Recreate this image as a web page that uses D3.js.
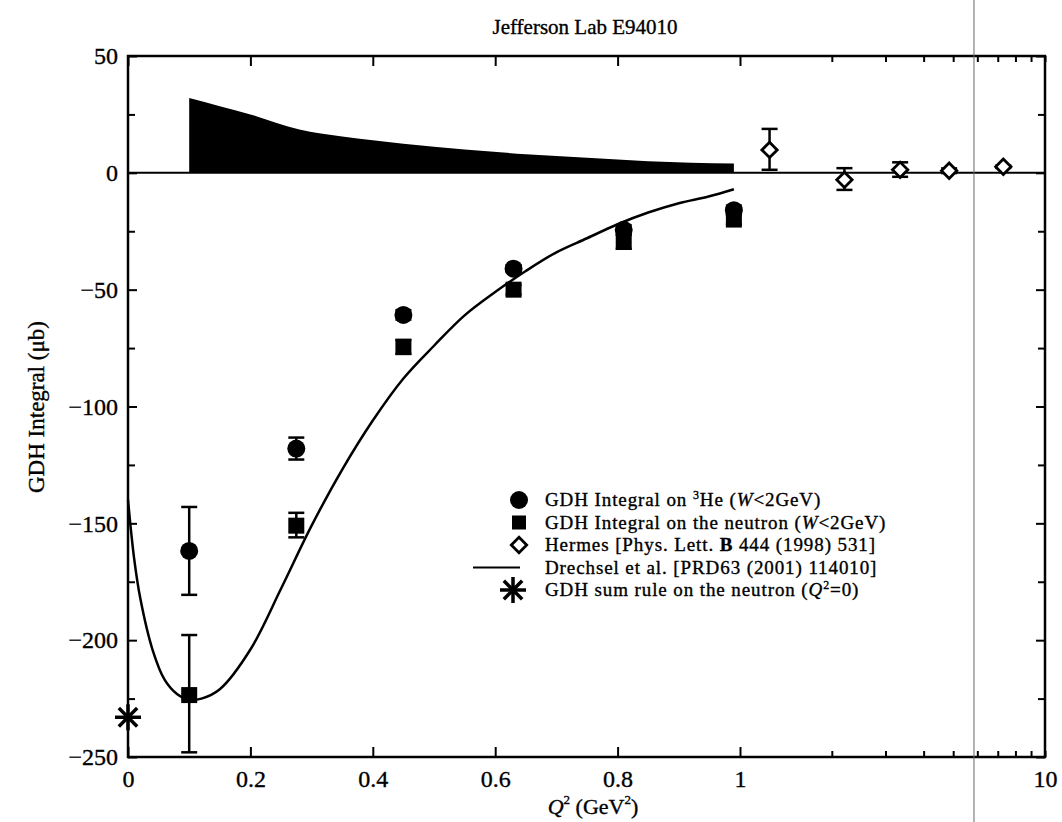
<!DOCTYPE html>
<html>
<head>
<meta charset="utf-8">
<script src="https://cdn.jsdelivr.net/npm/d3@7"></script>
<style>
  body { margin: 0; background: #fff; }
  svg text { font-family: "Liberation Serif", "Times New Roman", serif; fill: #000; stroke: #000; stroke-width: 0.35px; }
</style>
</head>
<body>
<div class="canva"></div>
<script>
// E94010 points (3He and neutron)
const q2Points = [0.1, 0.275, 0.45, 0.63, 0.81, 0.99];
const he3Values = [-161.8, -118, -60.8, -41, -24.4, -16];
const he3ErrUp = [18.8, 4.7, 2, 1.5, 2, 2];
const he3ErrDown = [18.8, 4.7, 2, 1.5, 2, 2];
const neutronValues = [-223.5, -151, -74.5, -50, -29.5, -20];
const neutronErrUp = [25.7, 5.5, 3, 2, 3, 2];
const neutronErrDown = [24.5, 5, 3, 2, 3, 2];

// Hermes
const hermesQ2 = [1.25, 2.2, 3.35, 4.85, 7.3];
const hermesValues = [9.8, -3, 1.3, 0.9, 2.6];
const hermesErrUp = [9, 5, 3.2, 1, 0.5];
const hermesErrDown = [8.5, 4.3, 3, 1, 0.5];

// systematic band
const sysQ2 = [0.1, 0.15, 0.2, 0.28, 0.35, 0.45, 0.55, 0.65, 0.75, 0.85, 0.99];
const sysValues = [32, 28.5, 25, 18.5, 15.5, 12.5, 10, 8, 6.5, 5, 4];

// Drechsel et al. (MAID)
const maidQ2 = [0, 0.01, 0.02, 0.04, 0.06, 0.08, 0.1, 0.12, 0.15, 0.2, 0.25, 0.3, 0.35, 0.4, 0.45, 0.5, 0.55, 0.6, 0.65, 0.7, 0.75, 0.8, 0.85, 0.9, 0.95, 0.99];
const maidValues = [-140, -165, -182, -204, -217, -223, -225.5, -225, -221, -204, -178, -151, -127, -106, -88, -74, -61, -51, -42, -34, -28, -22, -17, -13, -10, -7];

// GDH sum rule at Q2 = 0
const sumRuleQ2 = [0];
const sumRuleValues = [-233];

const xLinTicks = [0, 0.2, 0.4, 0.6, 0.8, 1];
const xLinLabels = ["0", "0.2", "0.4", "0.6", "0.8", "1"];
const xLogTicks = [2, 3, 4, 5, 6, 7, 8, 9, 10];
const yTicks = [50, 0, -50, -100, -150, -200, -250];
const yMinorTicks = [25, -25, -75, -125, -175, -225];

const width = 1062, height = 822;
const plotLeft = 128, breakX = 740, plotRight = 1045, plotTop = 56, plotBottom = 757;

const svg = d3.select(".canva").append("svg")
  .attr("width", width)
  .attr("height", height);

const xLin = d3.scaleLinear().domain([0, 1]).range([plotLeft, breakX]);
const xLog = d3.scaleLog().domain([1, 10]).range([breakX, plotRight]);
const x = v => v <= 1 ? xLin(v) : xLog(v);
const y = d3.scaleLinear().domain([-250, 50]).range([plotBottom, plotTop]);

// title and axis labels
svg.append("text").attr("x", 585).attr("y", 34).attr("text-anchor", "middle")
  .style("font-size", "21px").text("Jefferson Lab E94010");

const xl = svg.append("text").attr("x", 593).attr("y", 814).attr("text-anchor", "middle")
  .style("font-size", "22px");
xl.append("tspan").style("font-style", "italic").text("Q");
xl.append("tspan").attr("dy", -10).style("font-size", "13px").text("2");
xl.append("tspan").attr("dy", 10).text(" (GeV");
xl.append("tspan").attr("dy", -10).style("font-size", "13px").text("2");
xl.append("tspan").attr("dy", 10).text(")");

svg.append("text").attr("transform", "translate(44,407) rotate(-90)")
  .attr("text-anchor", "middle").style("font-size", "23px").text("GDH Integral (μb)");

// axes
const fmtY = d => d < 0 ? "\u2212" + Math.abs(d) : String(d);
const styleAxis = g => {
  g.select(".domain").remove();
  g.selectAll("line").attr("stroke", "#000").attr("stroke-width", 2);
  g.selectAll("text").style("font-size", "24px").attr("fill", "#000")
    .style("font-family", "'Liberation Serif', serif");
};

svg.append("g").attr("transform", `translate(0,${plotBottom})`)
  .call(d3.axisBottom(xLin).tickValues(xLinTicks).tickFormat((d, i) => xLinLabels[i]).tickSize(-10).tickPadding(13))
  .call(styleAxis);
svg.append("g").attr("transform", `translate(0,${plotBottom})`)
  .call(d3.axisBottom(xLog).tickValues(xLogTicks).tickFormat(d => d === 10 ? "10" : "").tickSize(-6).tickPadding(13))
  .call(styleAxis);
svg.append("g").attr("transform", `translate(0,${plotTop})`)
  .call(d3.axisTop(xLin).tickValues(xLinTicks).tickFormat("").tickSize(-10))
  .call(styleAxis);
svg.append("g").attr("transform", `translate(0,${plotTop})`)
  .call(d3.axisTop(xLog).tickValues(xLogTicks).tickFormat("").tickSize(-6))
  .call(styleAxis);

svg.append("g").attr("transform", `translate(${plotLeft},0)`)
  .call(d3.axisLeft(y).tickValues(yTicks).tickFormat(fmtY).tickSize(-9).tickPadding(10))
  .call(styleAxis);
svg.append("g").attr("transform", `translate(${plotLeft},0)`)
  .call(d3.axisLeft(y).tickValues(yMinorTicks).tickFormat("").tickSize(-7))
  .call(styleAxis);
svg.append("g").attr("transform", `translate(${plotRight},0)`)
  .call(d3.axisRight(y).tickValues(yTicks).tickFormat("").tickSize(-9))
  .call(styleAxis);
svg.append("g").attr("transform", `translate(${plotRight},0)`)
  .call(d3.axisRight(y).tickValues(yMinorTicks).tickFormat("").tickSize(-7))
  .call(styleAxis);

// frame
svg.append("rect").attr("x", plotLeft).attr("y", plotTop)
  .attr("width", plotRight - plotLeft).attr("height", plotBottom - plotTop)
  .attr("fill", "none").attr("stroke", "#000").attr("stroke-width", 2.5);

// systematic band
const sysData = sysQ2.map((q, i) => ({q, v: sysValues[i]}));
svg.append("path").datum(sysData)
  .attr("d", d3.area().x(d => x(d.q)).y0(y(0)).y1(d => y(d.v)).curve(d3.curveMonotoneX))
  .attr("fill", "#000");

// zero line
svg.append("line").attr("x1", x(0)).attr("x2", x(10)).attr("y1", y(0)).attr("y2", y(0))
  .attr("stroke", "#000").attr("stroke-width", 2);

// model curve
const maidData = maidQ2.map((q, i) => ({q, v: maidValues[i]}));
svg.append("path").datum(maidData)
  .attr("d", d3.line().x(d => x(d.q)).y(d => y(d.v)).curve(d3.curveCatmullRom.alpha(0.5)))
  .attr("fill", "none").attr("stroke", "#000").attr("stroke-width", 2.5);

// error bars
function errorBars(qs, vals, up, down) {
  const g = svg.append("g").attr("stroke", "#000").attr("stroke-width", 2.5);
  qs.forEach((q, i) => {
    const cx = x(q), y1 = y(vals[i] + up[i]), y2 = y(vals[i] - down[i]);
    g.append("line").attr("x1", cx).attr("x2", cx).attr("y1", y1).attr("y2", y2);
    g.append("line").attr("x1", cx - 8).attr("x2", cx + 8).attr("y1", y1).attr("y2", y1);
    g.append("line").attr("x1", cx - 8).attr("x2", cx + 8).attr("y1", y2).attr("y2", y2);
  });
}
errorBars(q2Points, he3Values, he3ErrUp, he3ErrDown);
errorBars(q2Points, neutronValues, neutronErrUp, neutronErrDown);
errorBars(hermesQ2, hermesValues, hermesErrUp, hermesErrDown);

const circle = d3.symbol().type(d3.symbolCircle).size(254);
const square = d3.symbol().type(d3.symbolSquare).size(256);
const diamond = d3.symbol().type(d3.symbolDiamond2).size(150);

svg.append("g").selectAll("path").data(q2Points).join("path")
  .attr("transform", (d, i) => `translate(${x(d)},${y(neutronValues[i])})`)
  .attr("d", square).attr("fill", "#000");
svg.append("g").selectAll("path").data(q2Points).join("path")
  .attr("transform", (d, i) => `translate(${x(d)},${y(he3Values[i])})`)
  .attr("d", circle).attr("fill", "#000");
svg.append("g").selectAll("path").data(hermesQ2).join("path")
  .attr("transform", (d, i) => `translate(${x(d)},${y(hermesValues[i])})`)
  .attr("d", diamond).attr("fill", "#fff").attr("stroke", "#000").attr("stroke-width", 2.8);

function asterisk(g, cx, cy, r) {
  [0, 45, 90, 135].forEach(a => {
    const dx = r * Math.cos(a * Math.PI / 180), dy = r * Math.sin(a * Math.PI / 180);
    g.append("line").attr("x1", cx - dx).attr("x2", cx + dx).attr("y1", cy - dy).attr("y2", cy + dy)
      .attr("stroke", "#000").attr("stroke-width", 3.5);
  });
}
const starG = svg.append("g");
sumRuleQ2.forEach((q, i) => asterisk(starG, x(q), y(sumRuleValues[i]), 13));

// scanner line artifact
svg.append("line").attr("x1", xLog(5.85)).attr("x2", xLog(5.85)).attr("y1", 0).attr("y2", height)
  .attr("stroke", "#666").attr("stroke-width", 1);

// legend
const legX = 519, legTextX = 545, legY = [500, 522.5, 545, 567.5, 590];
const leg = svg.append("g").style("font-size", "19px").style("letter-spacing", "0.9px");
leg.append("path").attr("transform", `translate(${legX},${legY[0]})`).attr("d", circle).attr("fill", "#000");
leg.append("path").attr("transform", `translate(${legX},${legY[1]})`).attr("d", d3.symbol().type(d3.symbolSquare).size(196)).attr("fill", "#000");
leg.append("path").attr("transform", `translate(${legX},${legY[2]})`).attr("d", diamond)
  .attr("fill", "#fff").attr("stroke", "#000").attr("stroke-width", 2.8);
leg.append("line").attr("x1", 473).attr("x2", 520).attr("y1", legY[3]).attr("y2", legY[3])
  .attr("stroke", "#000").attr("stroke-width", 2);
asterisk(leg, legX - 6, legY[4], 13);

const t0 = leg.append("text").attr("x", legTextX).attr("y", legY[0] + 6);
t0.append("tspan").text("GDH Integral on ");
t0.append("tspan").attr("dy", -7).style("font-size", "12px").text("3");
t0.append("tspan").attr("dy", 7).text("He (");
t0.append("tspan").style("font-style", "italic").text("W");
t0.append("tspan").text("<2GeV)");

const t1 = leg.append("text").attr("x", legTextX).attr("y", legY[1] + 6);
t1.append("tspan").text("GDH Integral on the neutron (");
t1.append("tspan").style("font-style", "italic").text("W");
t1.append("tspan").text("<2GeV)");

const t2 = leg.append("text").attr("x", legTextX).attr("y", legY[2] + 6);
t2.append("tspan").text("Hermes [Phys. Lett. ");
t2.append("tspan").style("font-weight", "bold").text("B");
t2.append("tspan").text(" 444 (1998) 531]");

leg.append("text").attr("x", legTextX).attr("y", legY[3] + 6)
  .text("Drechsel et al. [PRD63 (2001) 114010]");

const t4 = leg.append("text").attr("x", legTextX).attr("y", legY[4] + 6);
t4.append("tspan").text("GDH sum rule on the neutron (");
t4.append("tspan").style("font-style", "italic").text("Q");
t4.append("tspan").attr("dy", -7).style("font-size", "12px").text("2");
t4.append("tspan").attr("dy", 7).text("=0)");
</script>
</body>
</html>
